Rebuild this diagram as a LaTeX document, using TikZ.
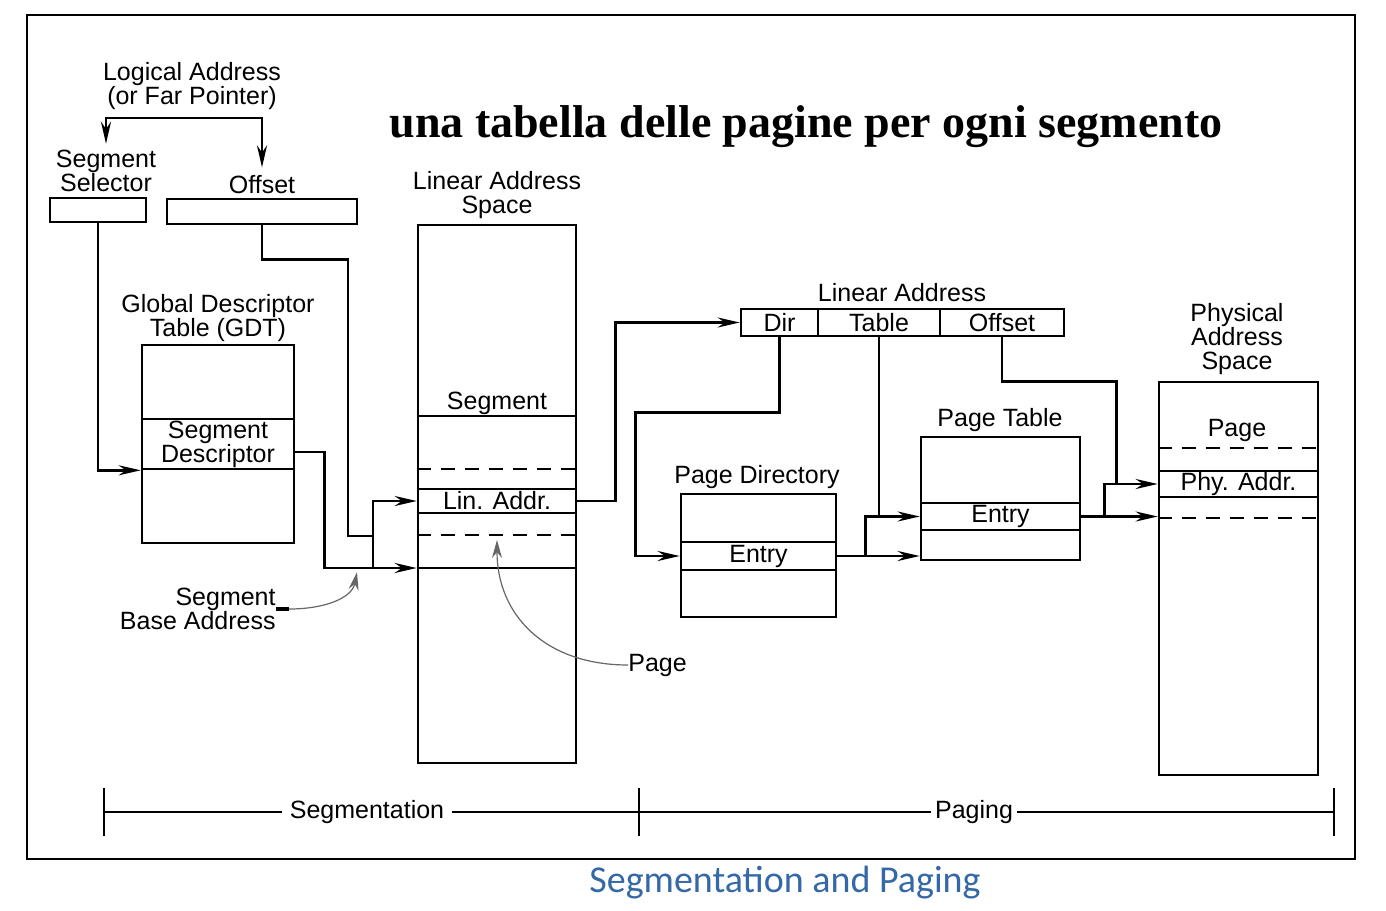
\documentclass[tikz,border=0pt]{standalone}
\usepackage{fontspec}
\setmainfont{Liberation Sans}
\newfontfamily\titlefont{Liberation Serif}
\newfontfamily\capfont{Carlito}
\usetikzlibrary{arrows.meta, positioning, calc}
\definecolor{capblue}{RGB}{52,104,166}

\begin{document}
\begin{tikzpicture}[
    x=0.5pt, y=-0.5pt,
    box/.style={draw, line width=1.3pt, inner sep=0pt, align=center, font=\fontsize{12.5}{12}\selectfont},
    lbl/.style={inner sep=0pt, align=center, font=\fontsize{12.5}{12}\selectfont},
    arrow/.style={-{Stealth[length=11pt, width=5pt]}, line width=1.3pt},
    wire/.style={line width=1.3pt},
    dashline/.style={line width=1.3pt, dash pattern=on 7pt off 5pt},
    curved/.style={-{Stealth[length=9pt, width=5pt]}, line width=0.6pt, black!60}
]
    \useasboundingbox (0,0) rectangle (1386,910);
    \draw[line width=1pt] (27,15) rectangle (1355,859);

    % Title
    \node[inner sep=0pt, font=\titlefont\bfseries\fontsize{23}{26}\selectfont] (title) at (806,127) {una tabella delle pagine per ogni segmento};

    % Logical address
    \node[lbl] (logaddr) at (192,86) {Logical Address\\(or Far Pointer)};
    \node[lbl] (sellbl) at (106,171) {Segment\\Selector};
    \node[lbl] (offlbl) at (262,185) {Offset};
    \node[box, minimum width=48pt, minimum height=12pt] (selector) at (98,210) {};
    \node[box, minimum width=95pt, minimum height=12.5pt] (offset) at (262,211.5) {};
    \coordinate (lsplit) at (192,118);

    % GDT
    \node[lbl] (gdtlbl) at (218,318) {Global Descriptor\\Table (GDT)};
    \node[box, minimum width=76pt, minimum height=99pt] (gdt) at (218,444) {};
    \node[box, minimum width=76pt, minimum height=25pt] (gdtdesc) at (218,444) {Segment\\Descriptor};
    \node[lbl, align=right, anchor=east] (sbalbl) at (276,609) {Segment\\Base Address};

    % Linear address space
    \node[lbl] (linlbl) at (497,195) {Linear Address\\Space};
    \node[box, minimum width=79pt, minimum height=269pt] (linspace) at (497,494) {};
    \node[lbl] (seglbl) at (497,403) {Segment};
    \node[box, minimum width=79pt, minimum height=12pt] (linaddr) at (497,501) {Lin. Addr.};
    \draw[wire] (linspace.west |- 0,416) -- (linspace.east |- 0,416);
    \draw[dashline] (linspace.west |- 0,469) -- (linspace.east |- 0,469);
    \draw[dashline] (linspace.west |- 0,535) -- (linspace.east |- 0,535);
    \draw[wire] (linspace.west |- 0,568) -- (linspace.east |- 0,568);
    \node[lbl, anchor=west] (pagelbl) at (628,665) {Page};
    \coordinate (segbranch) at (373,568);
    \coordinate (segjoin) at (373,536);
    \coordinate (sbatip) at (357,572);
    \coordinate (pagetip) at (497,540);

    % Linear address
    \node[lbl] (lalbl) at (902,293) {Linear Address};
    \node[box, minimum width=38.5pt, minimum height=13.5pt] (ladir) at (779.5,322.5) {Dir};
    \node[box, minimum width=61pt, minimum height=13.5pt] (latable) at (879,322.5) {Table};
    \node[box, minimum width=62pt, minimum height=13.5pt] (laoffset) at (1002,322.5) {Offset};

    % Page directory and page table
    \node[lbl] (pdlbl) at (757,477) {Page Directory};
    \node[box, minimum width=77.5pt, minimum height=61.5pt] (pagedir) at (758.5,555.5) {};
    \node[box, minimum width=77.5pt, minimum height=14pt] (pdentry) at (758.5,556) {Entry};
    \node[lbl] (ptlbl) at (1000,420) {Page Table};
    \node[box, minimum width=79.5pt, minimum height=61.5pt] (pagetable) at (1000.5,498.5) {};
    \node[box, minimum width=79.5pt, minimum height=13.5pt] (ptentry) at (1000.5,516.5) {Entry};

    % Physical address space
    \node[lbl] (physlbl) at (1237,339) {Physical\\Address\\Space};
    \node[box, minimum width=79.5pt, minimum height=196.5pt] (physpace) at (1238.5,578.5) {};
    \node[lbl] (ppagelbl) at (1237,430) {Page};
    \node[box, minimum width=79.5pt, minimum height=13pt] (phyaddr) at (1238.5,484) {Phy. Addr.};
    \draw[dashline] (physpace.west |- 0,448) -- (physpace.east |- 0,448);
    \draw[dashline] (physpace.west |- 0,518) -- (physpace.east |- 0,518);

    % Arrows
    \draw[arrow, shorten >=3pt] (lsplit) -| (sellbl.north);
    \draw[arrow, shorten >=4pt] (lsplit) -| (offlbl.north);
    \draw[arrow] (selector.south) |- (gdt.west |- gdtdesc.south);
    \draw[wire] (offset.south) |- ++(86,34) |- (segjoin);
    \draw[arrow] ([yshift=-4pt]gdtdesc.east) -- ++(29,0) |- (linspace.west |- segbranch);
    \draw[arrow] (segbranch) |- (linaddr.west);
    \draw[line width=2pt] (sbalbl.east) -- ++(13,0) coordinate (sbatail);
    \draw[curved] (sbatail) .. controls (325,609) and (352,598) .. (sbatip);
    \draw[curved] (pagelbl.west) .. controls (545,665) and (497,615) .. (pagetip);
    \draw[arrow] (linaddr.east) -- ++(38,0) |- (ladir.west);
    \draw[arrow] (ladir.south) -- ++(0,75) -| ([xshift=-22pt]pdentry.west) -- (pdentry.west);
    \draw[arrow] (latable.south) |- (ptentry.west);
    \draw[arrow] (pdentry.east) -- (pdentry.east -| pagetable.west);
    \draw[wire] ([xshift=14pt]pdentry.east) |- (latable.south |- ptentry.west);
    \draw[arrow] (ptentry.east) -- (ptentry.east -| physpace.west);
    \draw[arrow] ([xshift=11.5pt]ptentry.east) |- (phyaddr.west);
    \draw[wire] (laoffset.south) -- ++(0,44) -| ([xshift=-20.5pt]phyaddr.west);

    % Segmentation / Paging bar
    \coordinate (segstart) at (104,812);
    \coordinate (split) at (639,812);
    \coordinate (pagend) at (1334,812);
    \draw[line width=0.9pt] (segstart) -- (pagend);
    \foreach \p in {segstart, split, pagend}
        \draw[line width=1.3pt] ([yshift=12pt]\p) -- ([yshift=-12pt]\p);
    \node[lbl, fill=white, inner xsep=4pt] (seglabel) at (367,812) {Segmentation};
    \node[lbl, fill=white, inner xsep=2pt] (paglabel) at (974,812) {Paging};

    % Caption
    \node[inner sep=0pt, text=capblue, font=\capfont\fontsize{19}{22}\selectfont] (caption) at (785,883) {Segmentation and Paging};
\end{tikzpicture}
\end{document}
